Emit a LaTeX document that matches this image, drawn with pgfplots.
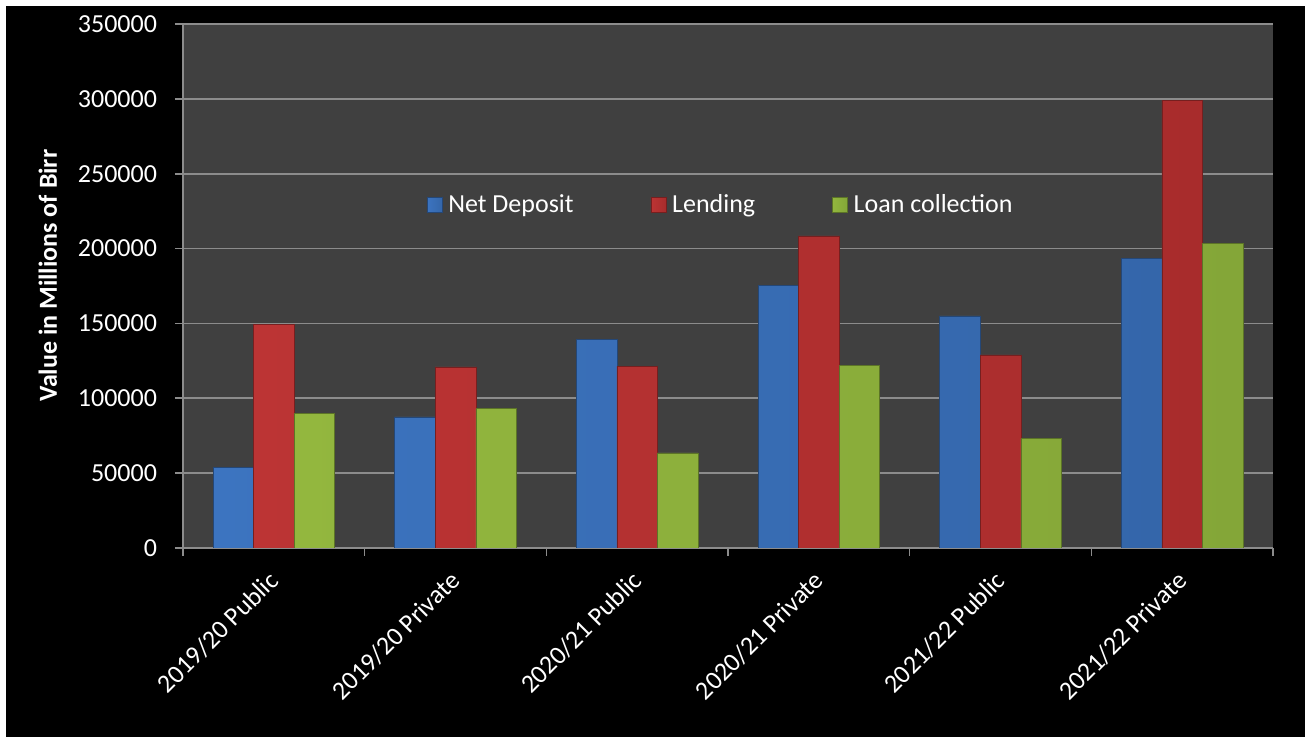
\documentclass[border=0pt]{standalone}
\usepackage{fontspec}
\setmainfont{Carlito}
\usepackage{pgfplots}
\pgfplotsset{compat=1.18}
\definecolor{plotbg}{HTML}{404040}
\definecolor{gridc}{HTML}{8C8C8C}
\definecolor{bL}{HTML}{3C74C0}\definecolor{bM}{HTML}{4C8DDC}\definecolor{bR}{HTML}{3466AA}
\definecolor{rL}{HTML}{BC3434}\definecolor{rM}{HTML}{DA4646}\definecolor{rR}{HTML}{A82C2C}
\definecolor{gL}{HTML}{93B73E}\definecolor{gM}{HTML}{ABD052}\definecolor{gR}{HTML}{84A638}
\newcommand{\chartfont}{\fontsize{19.5}{23}\selectfont}
\begin{document}
\begin{tikzpicture}
\fill[white] (0pt,0pt) rectangle (978.75pt,552.75pt);
\fill[black] (4.5pt,0pt) rectangle (978.75pt,548.25pt);
\useasboundingbox (0pt,0pt) rectangle (978.75pt,552.75pt);
\begin{axis}[
  at={(137.25pt,141.75pt)}, anchor=south west,
  scale only axis, width=817.5pt, height=393pt,
  xmin=-0.5, xmax=5.5, ymin=0, ymax=350000,
  ybar=0pt, bar width=30.4pt,
  axis background/.style={fill=plotbg},
  axis x line*=bottom, axis y line*=left,
  axis line style={draw=gridc, line width=1.2pt, -},
  ymajorgrids, grid style={draw=gridc, line width=1.2pt},
  ytick={0,50000,...,350000},
  scaled y ticks=false,
  /pgf/number format/assume math mode=true,
  yticklabel style={/pgf/number format/fixed, /pgf/number format/1000 sep={}, xshift=-10pt},
  tick align=outside,
  major tick length=6pt,
  ytick style={draw=gridc, line width=1.2pt},
  xtick={0,1,2,3,4,5},
  xticklabels={2019/20 Public,2019/20 Private,2020/21 Public,2020/21 Private,2021/22 Public,2021/22 Private},
  xtick style={draw=none},
  extra x ticks={-0.5,0.5,1.5,2.5,3.5,4.5,5.5},
  extra x tick labels={},
  extra x tick style={xtick style={draw=gridc, line width=1.2pt}},
  tick label style={font=\chartfont, text=white},
  xticklabel style={xshift=-5pt, yshift=-7pt, rotate=45, anchor=north east, inner sep=2pt},
  ylabel={\bfseries Value in Millions of Birr},
  every axis y label/.style={at={(axis description cs:-0.1239,0.5195)}, rotate=90, anchor=center, font=\chartfont, text=white},
  legend columns=3,
  legend image code/.code={\draw[#1] (0pt,-5.6pt) rectangle (11.25pt,5.6pt);},
  legend style={at={(0.2234,0.6555)}, anchor=west, draw=none, fill=none,
    text=white, font=\chartfont, inner sep=0pt,
    nodes={inner sep=0pt},
    /tikz/every odd column/.append style={column sep=4.5pt},
    /tikz/every even column/.append style={column sep=57.75pt}},
]
\addplot[draw=bR!70!black, line width=0.4pt, left color=bL, middle color=bM, right color=bR]
  coordinates {(0,54000) (1,87500) (2,139500) (3,175500) (4,155000) (5,193500)};
\addplot[draw=rR!70!black, line width=0.4pt, left color=rL, middle color=rM, right color=rR]
  coordinates {(0,149500) (1,121000) (2,121500) (3,208500) (4,129000) (5,299000)};
\addplot[draw=gR!70!black, line width=0.4pt, left color=gL, middle color=gM, right color=gR]
  coordinates {(0,90000) (1,93000) (2,63500) (3,122000) (4,73000) (5,203500)};
\legend{Net Deposit,Lending,Loan collection}
\end{axis}
\end{tikzpicture}
\end{document}
